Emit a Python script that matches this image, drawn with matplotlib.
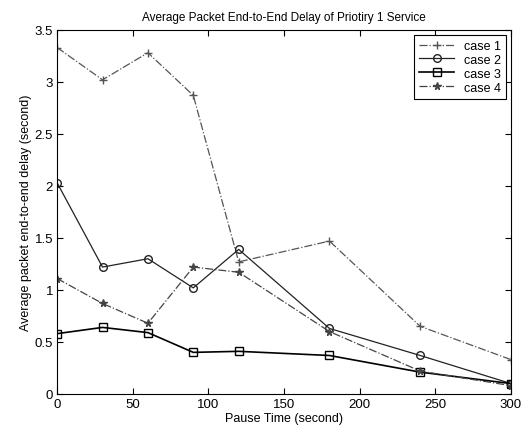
import matplotlib
matplotlib.use("Agg")
import matplotlib.pyplot as plt

plt.rcParams['font.family'] = ['Liberation Sans', 'DejaVu Sans']

pause_time = [0, 30, 60, 90, 120, 180, 240, 300]
case1 = [3.33, 3.02, 3.28, 2.87, 1.27, 1.47, 0.65, 0.33]
case2 = [2.03, 1.22, 1.30, 1.02, 1.39, 0.63, 0.37, 0.10]
case3 = [0.58, 0.64, 0.59, 0.40, 0.41, 0.37, 0.21, 0.10]
case4 = [1.11, 0.87, 0.68, 1.22, 1.17, 0.60, 0.22, 0.08]

fig = plt.figure(figsize=(5.29, 4.35), dpi=100)
ax = fig.add_axes([0.108, 0.092, 0.858, 0.837])

ax.plot(pause_time, case1, color='#555555', linestyle='-.', linewidth=0.9,
        marker='+', markersize=6, label='case 1')
ax.plot(pause_time, case2, color='#222222', linestyle='-', linewidth=0.9,
        marker='o', markersize=5.5, markerfacecolor='none', label='case 2')
ax.plot(pause_time, case3, color='black', linestyle='-', linewidth=1.2,
        marker='s', markersize=5.5, markerfacecolor='none', label='case 3')
ax.plot(pause_time, case4, color='#444444', linestyle='-.', linewidth=0.9,
        marker='*', markersize=5.5, label='case 4')

ax.set_xlim(0, 300)
ax.set_ylim(0, 3.5)
ax.set_xticks(range(0, 301, 50))
ax.set_yticks([0, 0.5, 1, 1.5, 2, 2.5, 3, 3.5])
ax.set_yticklabels(['0', '0.5', '1', '1.5', '2', '2.5', '3', '3.5'])
ax.tick_params(direction='in', top=True, right=True, labelsize=9.5, length=4, pad=3)

ax.set_title('Average Packet End-to-End Delay of Priotiry 1 Service', fontsize=8.5, pad=7)
ax.set_xlabel('Pause Time (second)', fontsize=9, labelpad=1)
ax.set_ylabel('Average packet end-to-end delay (second)', fontsize=9, labelpad=2)

leg = ax.legend(loc='upper right', fontsize=9, fancybox=False, framealpha=1,
                edgecolor='black', borderaxespad=0.4, handlelength=2.8,
                labelspacing=0.15)
leg.get_frame().set_linewidth(0.8)

plt.savefig('out.png', dpi=100)
